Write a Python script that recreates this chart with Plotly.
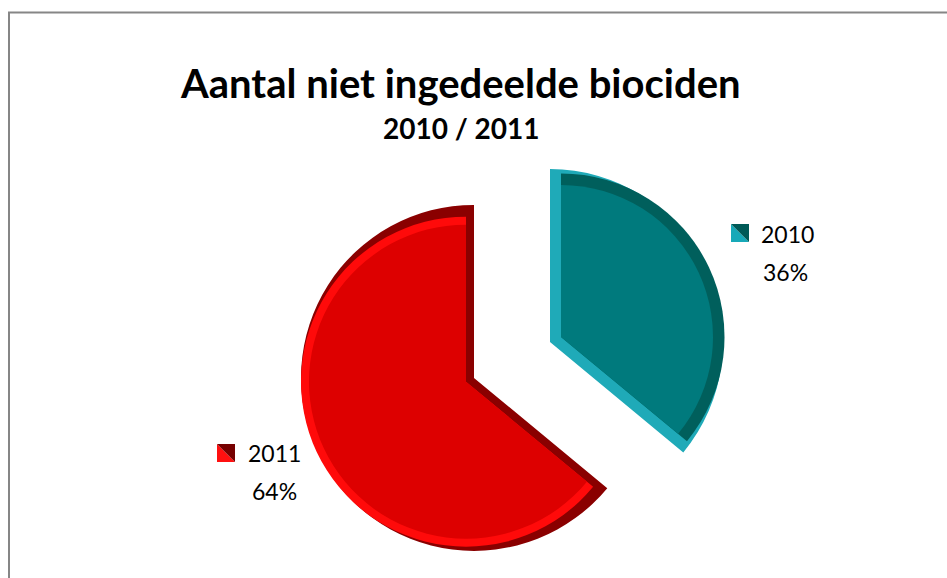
import math
import plotly.graph_objects as go

# ---- data ----
years = ["2010", "2011"]
shares = [36, 64]
pct_labels = ["36%", "64%"]
title_text = "Aantal niet ingedeelde biociden"
subtitle_text = "2010 / 2011"

# ---- style ----
W, H = 947, 578
NONE = "rgba(0,0,0,0)"
teal_face, red_face = "#007A7D", "#DD0000"
teal_light, teal_dark = "#1FAAB8", "#005F5C"
red_dark, red_light = "#8A0000", "#FF0A0A"
key_dark = ["#005A57", "#760000"]
key_light = ["#17A9B8", "#FF1010"]

def px(x):
    return x / W

def py(y):
    return 1 - y / H

cx, cy = 512, 360          # centre between the two exploded slices
R, offset = 173, 42        # slice radius and explosion distance (px)
k = 1 / math.sin(math.radians(64.8))

fig = go.Figure()

def add_layer(radius, off, colors):
    box = 2 * (radius + off)
    fig.add_trace(go.Pie(
        labels=years, values=shares, sort=False, direction="clockwise", rotation=0,
        pull=[off / radius] * 2, textinfo="none", hoverinfo="skip",
        marker=dict(colors=colors, line=dict(width=0)),
        domain=dict(x=[px(cx - 260), px(cx + 260)],
                    y=[max(0.0, py(cy + box / 2)), min(1.0, py(cy - box / 2))]),
        showlegend=False,
    ))

# base bevel (straight-edge colours)
add_layer(R, offset, [teal_light, red_dark])
# curved-edge bevel colours
add_layer(163.5, offset + 11 * k, [teal_dark, NONE])
add_layer(165, offset + 8 * k, [NONE, red_light])
# faces
add_layer(152, offset + 11 * k, [teal_face, NONE])
add_layer(157, offset + 8 * k, [NONE, red_face])

annotations = [
    dict(text=f"<b>{title_text}</b>", x=px(460), y=py(83), xref="paper", yref="paper",
         showarrow=False, xanchor="center", yanchor="middle",
         font=dict(family="Lato", size=40, color="#000000")),
    dict(text=f"<b>{subtitle_text}</b>", x=px(461), y=py(128), xref="paper", yref="paper",
         showarrow=False, xanchor="center", yanchor="middle",
         font=dict(family="Lato", size=28, color="#000000")),
]

label_pos = [((787, 234), (785, 272), (731, 224)), ((274, 453), (274, 491), (217, 444))]
shapes = [
    dict(type="rect", xref="paper", yref="paper", x0=px(9), x1=px(W + 20), y0=py(H + 20), y1=py(12.5),
         line=dict(color="#868686", width=2), fillcolor=NONE, layer="below"),
]
for i, (yr, pc) in enumerate(zip(years, pct_labels)):
    (lx, ly), (px2, py2), (kx, ky) = label_pos[i]
    annotations.append(dict(text=yr, x=px(lx), y=py(ly), xref="paper", yref="paper", showarrow=False,
                            xanchor="center", yanchor="middle",
                            font=dict(family="Lato", size=23, color="#000000")))
    annotations.append(dict(text=pc, x=px(px2), y=py(py2), xref="paper", yref="paper", showarrow=False,
                            xanchor="center", yanchor="middle",
                            font=dict(family="Lato", size=23, color="#000000")))
    s = 18
    x0, y0, x1, y1 = px(kx), py(ky + s), px(kx + s), py(ky)
    shapes.append(dict(type="path", xref="paper", yref="paper",
                       path=f"M {x0} {y1} L {x0} {y0} L {x1} {y0} Z",
                       fillcolor=key_light[i], line=dict(width=0)))
    shapes.append(dict(type="path", xref="paper", yref="paper",
                       path=f"M {x0} {y1} L {x1} {y1} L {x1} {y0} Z",
                       fillcolor=key_dark[i], line=dict(width=0)))

fig.update_layout(
    width=W, height=H,
    margin=dict(l=0, r=0, t=0, b=0),
    paper_bgcolor="#FFFFFF", plot_bgcolor="#FFFFFF",
    annotations=annotations, shapes=shapes,
    showlegend=False,
)

fig.write_html("out.html", config={"displayModeBar": False},
               post_script="document.body.style.margin='0px';document.body.style.overflow='hidden';")
